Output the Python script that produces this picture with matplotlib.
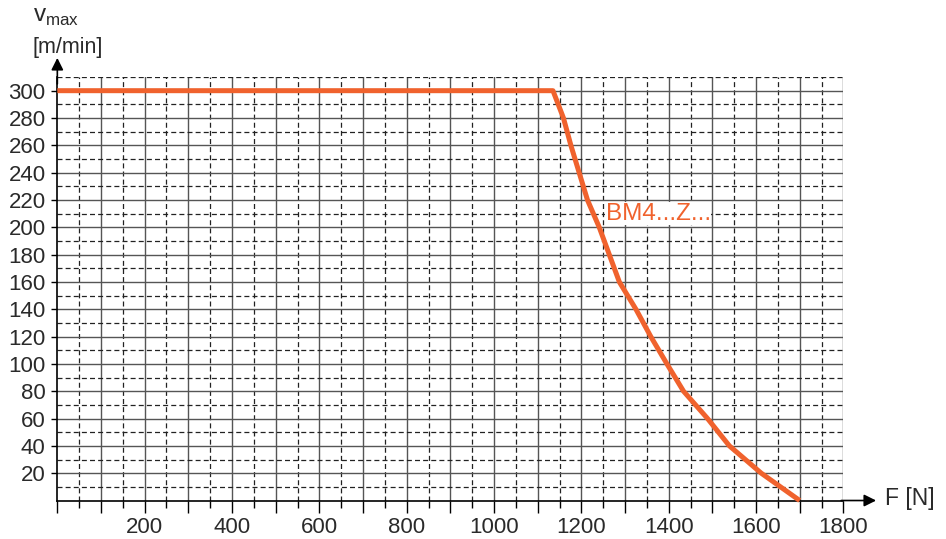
import matplotlib
matplotlib.use("Agg")
import matplotlib.pyplot as plt
from matplotlib.ticker import MultipleLocator, FuncFormatter

plt.rcParams['font.family'] = ['Liberation Sans', 'DejaVu Sans']

# Curve BM4...Z...: force F [N] vs. max speed v [m/min]
force_n = [0, 1135, 1159, 1176, 1195, 1214, 1241, 1264, 1287,
           1325, 1359, 1396, 1434, 1489, 1539, 1612, 1700]
v_max = [300, 300, 280, 260, 240, 220, 200, 180, 160,
         140, 120, 100, 80, 60, 40, 20, 0]
curve_label = "BM4...Z..."

x_ticks = list(range(200, 1801, 200))
y_ticks = list(range(20, 301, 20))

orange = '#F0622D'
text_col = '#2a2a2a'

fig = plt.figure(figsize=(9.46, 5.39), dpi=100)
ax = fig.add_axes([0.0606, 0.0714, 0.8309, 0.7857])
ax.set_xlim(0, 1800)
ax.set_ylim(0, 310)

# grid: solid every 100 N / 20 m/min, dashed in between
for x in range(100, 1801, 100):
    ax.axvline(x, color='#555555', lw=1.0, zorder=1)
for x in range(50, 1800, 100):
    ax.axvline(x, color='#222222', lw=0.9, ls=(0, (4, 2.5)), zorder=1)
for y in range(20, 301, 20):
    ax.axhline(y, color='#555555', lw=1.0, zorder=1)
for y in range(10, 311, 20):
    ax.axhline(y, color='#222222', lw=0.9, ls=(0, (4, 2.5)), zorder=1)

ax.plot(force_n, v_max, color=orange, lw=3.6, solid_capstyle='butt',
        solid_joinstyle='round', zorder=3, clip_on=False)

ax.text(1256, 210, curve_label, color=orange, fontsize=17.5, va='center',
        ha='left', zorder=4,
        bbox=dict(facecolor='white', edgecolor='none', pad=0.3))

for side in ['top', 'right']:
    ax.spines[side].set_visible(False)
ax.spines['left'].set_color('black')
ax.spines['bottom'].set_color('black')
ax.spines['left'].set_linewidth(1.2)
ax.spines['bottom'].set_linewidth(1.2)

ax.xaxis.set_major_locator(MultipleLocator(100))
ax.xaxis.set_minor_locator(MultipleLocator(50))
ax.xaxis.set_major_formatter(FuncFormatter(
    lambda v, p: f"{int(v)}" if int(v) in x_ticks else ""))
ax.set_yticks(y_ticks)
ax.tick_params(axis='x', which='major', length=8.6, width=1, color='black',
               labelsize=16, labelcolor=text_col, pad=3)
ax.tick_params(axis='x', which='minor', length=4.7, width=1, color='black')
ax.tick_params(axis='y', length=4.5, width=1, color='black',
               labelsize=16, labelcolor=text_col, pad=4)

# axis arrows
ax.annotate('', xy=(1875, 0), xytext=(1795, 0), annotation_clip=False,
            arrowprops=dict(arrowstyle='-|>', color='black', lw=1.2,
                            mutation_scale=18, shrinkA=0, shrinkB=0))
ax.annotate('', xy=(0, 324), xytext=(0, 305), annotation_clip=False,
            arrowprops=dict(arrowstyle='-|>', color='black', lw=1.2,
                            mutation_scale=18, shrinkA=0, shrinkB=0))

fig.text(885 / 946, 1 - 499 / 539, "F [N]", fontsize=16.5, color=text_col,
         ha='left', va='center')
fig.text(33 / 946, 1 - 17 / 539, r"v$_\mathregular{max}$", fontsize=17.5,
         color=text_col, ha='left', va='center')
fig.text(33 / 946, 1 - 47 / 539, "[m/min]", fontsize=15.5, color=text_col,
         ha='left', va='center')

fig.savefig("out.png", dpi=100)
